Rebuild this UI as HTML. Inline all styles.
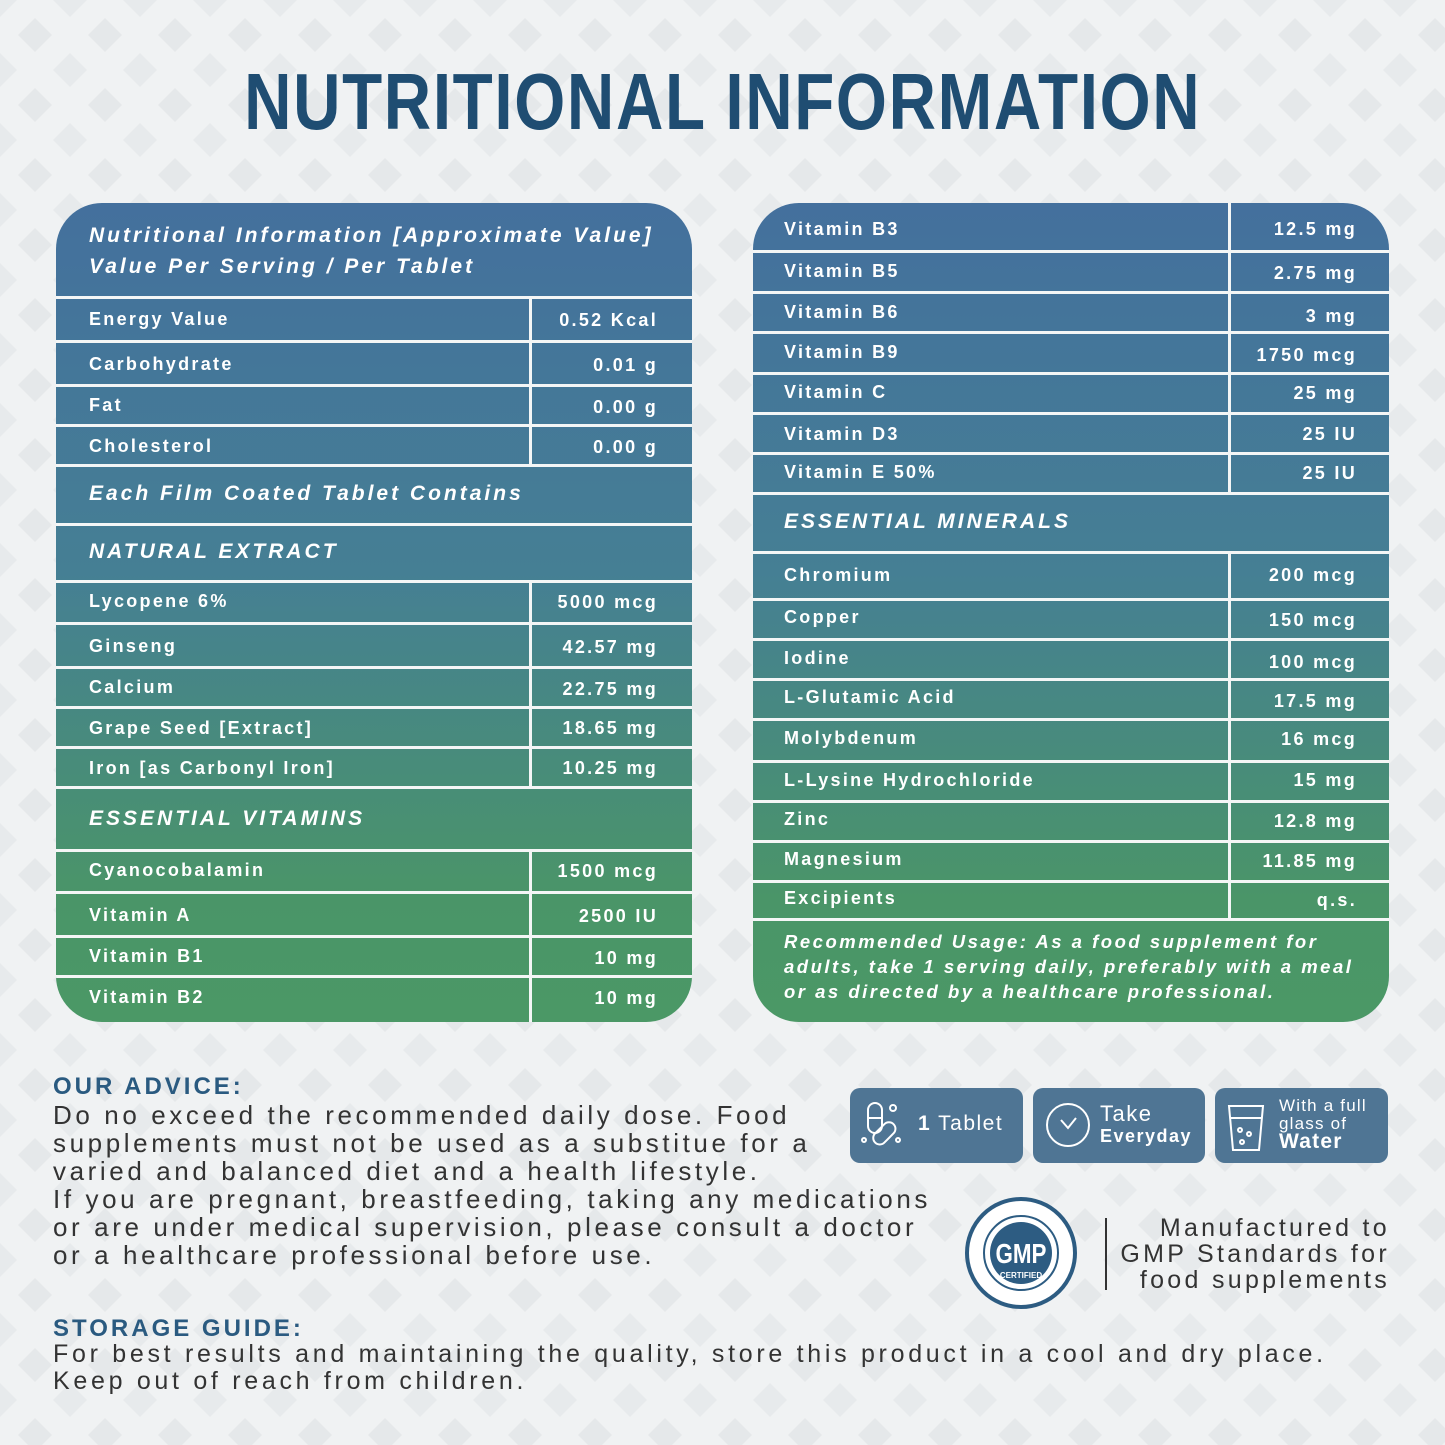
<!DOCTYPE html>
<html><head><meta charset="utf-8">
<style>
*{margin:0;padding:0;box-sizing:border-box}
body{width:1445px;height:1445px;position:relative;overflow:hidden;background:#f0f2f3;font-family:"Liberation Sans",sans-serif}
.bg{position:absolute;left:0;top:0}
.title{position:absolute;left:0;width:1445px;top:62px;text-align:center;font-size:80px;font-weight:bold;color:#1f4d72;line-height:80px}
.title span{display:inline-block;transform:scaleX(0.82);letter-spacing:2px}
.panel{position:absolute;top:203px;width:636px;height:819px;border-radius:46px;overflow:hidden;background:linear-gradient(180deg,#44709d 0%,#457f94 45%,#4a9568 85%,#4b9866 100%)}
.h{position:absolute;left:0;width:636px;height:3px;background:#f4f6f6}
.v{position:absolute;width:3px;background:#f4f6f6}
.t,.val{position:absolute;color:#fff;font-weight:bold;font-size:18px;line-height:22px;letter-spacing:2.3px;white-space:nowrap}
.val{right:34px;text-align:right}
.it{font-style:italic;font-size:21px;letter-spacing:3px}
.rec{font-style:italic;font-size:18.5px;letter-spacing:2.5px;line-height:25px}
.adv{position:absolute;left:53px;color:#333;font-size:26px;line-height:28px;letter-spacing:3.6px;white-space:nowrap}
.hd{position:absolute;left:53px;color:#2a5a80;font-size:24px;font-weight:bold;letter-spacing:3px}
.box{position:absolute;top:1088px;height:75px;background:#4f7594;border-radius:10px;color:#fff}
.gmpt{position:absolute;right:55px;color:#333;font-size:25px;line-height:26px;letter-spacing:3.3px;text-align:right;top:1215px}
</style></head><body>
<svg class="bg" width="1445" height="1445">
<defs><pattern id="p" width="70" height="70" patternUnits="userSpaceOnUse">
<polygon points="35,18 52,35 35,52 18,35" fill="#e5e8ea"/>
<polygon points="0,-17 17,0 0,17 -17,0" fill="#e7eaec"/><polygon points="70,-17 87,0 70,17 53,0" fill="#e7eaec"/>
<polygon points="0,53 17,70 0,87 -17,70" fill="#e7eaec"/><polygon points="70,53 87,70 70,87 53,70" fill="#e7eaec"/>
</pattern></defs>
<rect width="1445" height="1445" fill="url(#p)"/>
</svg>
<div class="title"><span>NUTRITIONAL INFORMATION</span></div>

<div class="panel" style="left:56px">
<div class="t it" style="left:33px;top:22px">Nutritional Information [Approximate Value]</div>
<div class="t it" style="left:33px;top:53px">Value Per Serving / Per Tablet</div>
<div class="h" style="top:93px"></div><div class="h" style="top:137px"></div><div class="h" style="top:181px"></div><div class="h" style="top:221px"></div><div class="h" style="top:261px"></div><div class="h" style="top:320px"></div><div class="h" style="top:377px"></div><div class="h" style="top:419px"></div><div class="h" style="top:463px"></div><div class="h" style="top:503px"></div><div class="h" style="top:543px"></div><div class="h" style="top:583px"></div><div class="h" style="top:646px"></div><div class="h" style="top:688px"></div><div class="h" style="top:732px"></div><div class="h" style="top:772px"></div>
<div class="v" style="left:473px;top:94px;height:168px"></div>
<div class="v" style="left:473px;top:378px;height:206px"></div>
<div class="v" style="left:473px;top:647px;height:172px"></div>
<div class="t" style="left:33px;top:105px">Energy Value</div><div class="val" style="top:106px">0.52 Kcal</div>
<div class="t" style="left:33px;top:150px">Carbohydrate</div><div class="val" style="top:151px">0.01 g</div>
<div class="t" style="left:33px;top:191px">Fat</div><div class="val" style="top:193px">0.00 g</div>
<div class="t" style="left:33px;top:232px">Cholesterol</div><div class="val" style="top:233px">0.00 g</div>
<div class="t it" style="left:33px;top:280px">Each Film Coated Tablet Contains</div>
<div class="t it" style="left:33px;top:338px">NATURAL EXTRACT</div>
<div class="t" style="left:33px;top:387px">Lycopene 6%</div><div class="val" style="top:388px">5000 mcg</div>
<div class="t" style="left:33px;top:432px">Ginseng</div><div class="val" style="top:433px">42.57 mg</div>
<div class="t" style="left:33px;top:473px">Calcium</div><div class="val" style="top:475px">22.75 mg</div>
<div class="t" style="left:33px;top:514px">Grape Seed [Extract]</div><div class="val" style="top:514px">18.65 mg</div>
<div class="t" style="left:33px;top:554px">Iron [as Carbonyl Iron]</div><div class="val" style="top:554px">10.25 mg</div>
<div class="t it" style="left:33px;top:605px">ESSENTIAL VITAMINS</div>
<div class="t" style="left:33px;top:656px">Cyanocobalamin</div><div class="val" style="top:657px">1500 mcg</div>
<div class="t" style="left:33px;top:701px">Vitamin A</div><div class="val" style="top:702px">2500 IU</div>
<div class="t" style="left:33px;top:742px">Vitamin B1</div><div class="val" style="top:744px">10 mg</div>
<div class="t" style="left:33px;top:783px">Vitamin B2</div><div class="val" style="top:784px">10 mg</div>
</div>

<div class="panel" style="left:753px">
<div class="h" style="top:47px"></div><div class="h" style="top:88px"></div><div class="h" style="top:128px"></div><div class="h" style="top:169px"></div><div class="h" style="top:209px"></div><div class="h" style="top:249px"></div><div class="h" style="top:289px"></div><div class="h" style="top:348px"></div><div class="h" style="top:395px"></div><div class="h" style="top:435px"></div><div class="h" style="top:475px"></div><div class="h" style="top:515px"></div><div class="h" style="top:557px"></div><div class="h" style="top:597px"></div><div class="h" style="top:637px"></div><div class="h" style="top:677px"></div><div class="h" style="top:715px"></div>
<div class="v" style="left:475px;top:0;height:290px"></div>
<div class="v" style="left:475px;top:349px;height:367px"></div>
<div class="t" style="left:31px;top:15px">Vitamin B3</div><div class="val" style="right:32px;top:15px">12.5 mg</div>
<div class="t" style="left:31px;top:57px">Vitamin B5</div><div class="val" style="right:32px;top:59px">2.75 mg</div>
<div class="t" style="left:31px;top:98px">Vitamin B6</div><div class="val" style="right:32px;top:102px">3 mg</div>
<div class="t" style="left:31px;top:138px">Vitamin B9</div><div class="val" style="right:32px;top:141px">1750 mcg</div>
<div class="t" style="left:31px;top:178px">Vitamin C</div><div class="val" style="right:32px;top:179px">25 mg</div>
<div class="t" style="left:31px;top:220px">Vitamin D3</div><div class="val" style="right:32px;top:220px">25 IU</div>
<div class="t" style="left:31px;top:258px">Vitamin E 50%</div><div class="val" style="right:32px;top:259px">25 IU</div>
<div class="t it" style="left:31px;top:308px">ESSENTIAL MINERALS</div>
<div class="t" style="left:31px;top:361px">Chromium</div><div class="val" style="right:32px;top:361px">200 mcg</div>
<div class="t" style="left:31px;top:403px">Copper</div><div class="val" style="right:32px;top:406px">150 mcg</div>
<div class="t" style="left:31px;top:444px">Iodine</div><div class="val" style="right:32px;top:448px">100 mcg</div>
<div class="t" style="left:31px;top:483px">L-Glutamic Acid</div><div class="val" style="right:32px;top:487px">17.5 mg</div>
<div class="t" style="left:31px;top:524px">Molybdenum</div><div class="val" style="right:32px;top:525px">16 mcg</div>
<div class="t" style="left:31px;top:566px">L-Lysine Hydrochloride</div><div class="val" style="right:32px;top:566px">15 mg</div>
<div class="t" style="left:31px;top:605px">Zinc</div><div class="val" style="right:32px;top:607px">12.8 mg</div>
<div class="t" style="left:31px;top:645px">Magnesium</div><div class="val" style="right:32px;top:647px">11.85 mg</div>
<div class="t" style="left:31px;top:684px">Excipients</div><div class="val" style="right:32px;top:686px">q.s.</div>
<div class="t rec" style="left:31px;top:726px">Recommended Usage: As a food supplement for<br>adults, take 1 serving daily, preferably with a meal<br>or as directed by a healthcare professional.</div>
</div>

<div class="hd" style="top:1073px">OUR ADVICE:</div>
<div class="adv" style="top:1101px">Do no exceed the recommended daily dose. Food<br>supplements must not be used as a substitue for a<br>varied and balanced diet and a health lifestyle.<br>If you are pregnant, breastfeeding, taking any medications<br>or are under medical supervision, please consult a doctor<br>or a healthcare professional before use.</div>
<div class="hd" style="top:1315px">STORAGE GUIDE:</div>
<div class="adv" style="top:1341px;font-size:25px;line-height:27px;letter-spacing:3.7px">For best results and maintaining the quality, store this product in a cool and dry place.<br>Keep out of reach from children.</div>

<div class="box" style="left:850px;width:173px">
<svg width="60" height="75" style="position:absolute;left:6px;top:0" fill="none" stroke="#fff" stroke-width="2"><rect x="12" y="15" width="14" height="30" rx="7"/><line x1="12" y1="30" x2="26" y2="30"/><rect x="22" y="32" width="13" height="26" rx="6.5" transform="rotate(45 28 45)"/><circle cx="37" cy="20" r="3"/><circle cx="8" cy="52" r="2"/><circle cx="42" cy="52" r="2"/></svg>
<div style="position:absolute;left:68px;top:24px;font-size:21px;letter-spacing:1.5px"><b>1</b> Tablet</div></div>
<div class="box" style="left:1033px;width:172px">
<svg width="56" height="75" style="position:absolute;left:8px;top:0" fill="none" stroke="#fff" stroke-width="2"><circle cx="27" cy="37" r="21"/><polyline points="20,32 27,40 35,30"/></svg>
<div style="position:absolute;left:67px;top:15px;font-size:22px;letter-spacing:1.5px;line-height:21px">Take<br><b style="font-size:18px">Everyday</b></div></div>
<div class="box" style="left:1215px;width:173px">
<svg width="50" height="75" style="position:absolute;left:10px;top:0" fill="none" stroke="#fff" stroke-width="2"><path d="M4 18 L38 18 L34 62 L8 62 Z"/><line x1="6" y1="30" x2="36" y2="30"/><circle cx="15" cy="42" r="2"/><circle cx="24" cy="46" r="2"/><circle cx="17" cy="54" r="2"/></svg>
<div style="position:absolute;left:64px;top:9px;font-size:17px;letter-spacing:1.2px;line-height:18px">With a full<br>glass of<br><b style="font-size:21px">Water</b></div></div>

<svg style="position:absolute;left:964px;top:1196px" width="115" height="115">
<circle cx="57" cy="57" r="54" fill="#fff" stroke="#2d5c82" stroke-width="4"/>
<circle cx="57" cy="57" r="37" fill="none" stroke="#2d5c82" stroke-width="2"/>
<circle cx="57" cy="57" r="31" fill="#2d5c82"/>
<text x="57" y="67" text-anchor="middle" fill="#fff" font-family="Liberation Sans" font-weight="bold" font-size="28" transform="translate(57 0) scale(0.8 1) translate(-57 0)">GMP</text>
<text x="57" y="82" text-anchor="middle" fill="#fff" font-family="Liberation Sans" font-weight="bold" font-size="8">CERTIFIED</text>
</svg>
<div style="position:absolute;left:1105px;top:1218px;width:2px;height:72px;background:#333"></div>
<div class="gmpt">Manufactured to<br>GMP Standards for<br>food supplements</div>
</body></html>
